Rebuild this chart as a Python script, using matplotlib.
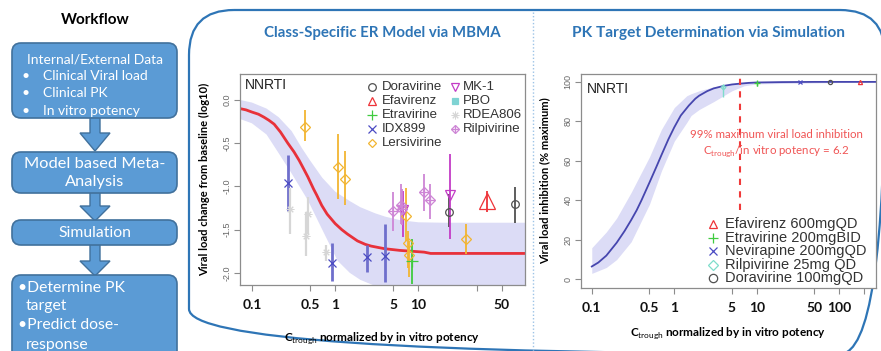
import matplotlib
matplotlib.use("Agg")
import numpy as np
import matplotlib.pyplot as plt
from matplotlib.patches import FancyBboxPatch, Polygon

plt.rcParams['mathtext.fontset'] = 'custom'
plt.rcParams['mathtext.rm'] = 'Lato'
plt.rcParams['mathtext.bf'] = 'Lato:bold'

# ---------------- data: left panel (MBMA) ----------------
drugs = ["Doravirine", "Efavirenz", "Etravirine", "IDX899", "Lersivirine",
         "MK-1", "PBO", "RDEA806", "Rilpivirine"]
dora_x = [23.3, 144];  dora_y = [-1.30, -1.20]; dora_lo = [-1.47, -1.42]; dora_hi = [-1.09, -1.01]
efa_x = [66];          efa_y = [-1.17];         efa_lo = [-1.30];         efa_hi = [-1.05]
etr_x = [8.47];        etr_y = [-1.86];         etr_lo = [-2.13];         etr_hi = [-1.61]
idx_x = [0.268, 0.91, 2.4, 3.94]
idx_y = [-0.96, -1.88, -1.82, -1.80]
idx_lo = [-1.28, -2.09, -1.99, -2.11]
idx_hi = [-0.64, -1.65, -1.68, -1.43]
ler_x = [0.436, 1.07, 1.31, 7.05, 7.4, 7.7, 37]
ler_y = [-0.31, -0.77, -0.92, -1.34, -1.65, -1.79, -1.61]
ler_lo = [-0.47, -1.15, -1.22, -1.63, -1.94, -2.05, -1.78]
ler_hi = [-0.12, -0.39, -0.59, -1.02, -1.51, -1.63, -1.43]
mk_x = [6.6, 23.8];    mk_y = [-1.27, -1.10];   mk_lo = [-1.59, -1.61];   mk_hi = [-1.05, -0.62]
rdea_x = [0.29, 0.47, 0.45, 0.78]
rdea_y = [-1.26, -1.32, -1.57, -1.76]
rdea_lo = [-1.55, -1.55, -1.80, -1.86]
rdea_hi = [-1.02, -1.12, -1.30, -1.68]
ril_x = [4.88, 6.14, 6.4, 11.7, 13.8]
ril_y = [-1.28, -1.21, -1.26, -1.06, -1.16]
ril_lo = [-1.51, -1.43, -1.45, -1.28, -1.38]
ril_hi = [-1.07, -0.97, -1.03, -0.86, -0.97]

er_x = [0.072, 0.085, 0.1, 0.12, 0.14, 0.16, 0.185, 0.22, 0.27, 0.32, 0.37, 0.42, 0.47, 0.55,
        0.6, 0.69, 0.8, 1.0, 1.2, 1.4, 1.85, 2.3, 2.7, 3.9, 6, 11.7, 14, 190]
er_y = [-0.10, -0.115, -0.14, -0.165, -0.20, -0.235, -0.28, -0.37, -0.50, -0.60, -0.70, -0.80,
        -0.89, -1.03, -1.10, -1.22, -1.32, -1.43, -1.50, -1.55, -1.63, -1.67, -1.69, -1.72,
        -1.74, -1.76, -1.775, -1.775]
band_up_x = [0.072, 0.1, 0.15, 0.21, 0.3, 0.4, 0.5, 0.7, 1.0, 1.5, 2.0, 3.0, 4.0, 6, 10, 20, 190]
band_up_y = [0.0, -0.03, -0.10, -0.20, -0.36, -0.56, -0.70, -0.90, -1.06, -1.17, -1.24, -1.31,
             -1.35, -1.39, -1.415, -1.42, -1.42]
band_lo_x = [0.072, 0.1, 0.15, 0.2, 0.3, 0.47, 0.7, 1.07, 1.5, 2.0, 3.0, 4.25, 190]
band_lo_y = [-0.22, -0.27, -0.40, -0.585, -0.85, -1.16, -1.50, -1.86, -2.0, -2.08, -2.15, -2.2, -2.25]

left_xticks = [0.1, 0.5, 1, 5, 10, 50, 100]
left_xticklabels = ["0.1", "0.5", "1", "5", "10", "", "50"]
left_yticks = [0.0, -0.5, -1.0, -1.5, -2.0]

# ---------------- data: right panel (simulation) ----------------
sim_x = [0.1, 0.12, 0.15, 0.2, 0.25, 0.3, 0.35, 0.4, 0.5, 0.6, 0.7, 0.85, 1, 1.2, 1.5, 1.8, 2,
         2.5, 3, 4, 5, 6.2, 8, 10, 20, 50, 279]
sim_y = [6.5, 8.5, 12, 18.5, 24.5, 30, 35, 40, 49, 56.5, 63, 71, 77, 83, 88, 91.5, 93, 95.3,
         96.7, 98, 98.7, 99.1, 99.5, 99.7, 99.9, 100, 100]
sim_band_x = [0.1, 0.15, 0.2, 0.3, 0.5, 0.7, 1, 1.42, 1.6, 2, 3, 5, 7, 10, 279]
sim_band_lo = [3, 6, 10, 19, 38, 55, 70, 79.5, 83, 86, 90, 95.5, 98, 99, 100]
sim_band_hi = [16, 24, 31, 44, 62, 76, 87, 93, 94, 95.5, 97.5, 99, 99.7, 100, 100]
target_ratio = 6.2
dose_labels = ["Efavirenz 600mgQD", "Etravirine 200mgBID", "Nevirapine 200mgQD",
               "Rilpivirine 25mg QD", "Doravirine 100mgQD"]
dose_x = [178, 10, 33.5, 3.94, 77]
dose_y = [100, 99.5, 100, 97.5, 100]
dose_lo = [100, 98.0, 100, 92.5, 100]
dose_hi = [100, 100.5, 100, 99.0, 100]
right_xticks = [0.1, 0.5, 1, 5, 10, 50, 100, 200]
right_xticklabels = ["0.1", "0.5", "1", "5", "10", "50", "100", ""]
right_yticks = [0, 20, 40, 60, 80, 100]

# ---------------- styles ----------------
BOX = "#5B9BD5"; BOXEDGE = "#41719C"; FRAME = "#2E75B6"
col = {"Doravirine": "#505050", "Efavirenz": "#EE3338", "Etravirine": "#3FCB3F",
       "IDX899": "#4B4BC3", "Lersivirine": "#F2B531", "MK-1": "#C33CC6",
       "PBO": "#7FD3D3", "RDEA806": "#D6D6D6", "Rilpivirine": "#CE86D6",
       "Nevirapine": "#4B4BC3", "RilpSim": "#7EDDCB"}
bar_col = dict(col, IDX899="#6F6FCC")
bar_lw = {"IDX899": 2.0, "RDEA806": 1.6}
POSTER = "Lato"
PLOTF = "Liberation Sans"


def mark(ax, x, y, kind, c, ms=6, mew=0.9, **kw):
    base = dict(linestyle="none", color=c, mfc="none", mew=mew, ms=ms, **kw)
    if kind in ("o", "^", "v", "x"):
        ax.plot(x, y, marker=kind, **base)
    elif kind == "+":
        ax.plot(x, y, marker="+", **dict(base, ms=ms * 1.3))
    elif kind == "D":
        ax.plot(x, y, marker="D", **dict(base, ms=ms * 0.8))
    elif kind == "s":
        ax.plot(x, y, marker="s", **dict(base, mfc=c, ms=ms * 0.8))
    elif kind == "*":
        ax.plot(x, y, marker=(8, 2, 0), **dict(base, mew=0.7))
    elif kind == "D+":
        ax.plot(x, y, marker="D", **dict(base, ms=ms * 0.8))
        ax.plot(x, y, marker="+", **dict(base, ms=ms * 1.1))


fig = plt.figure(figsize=(8.81, 3.51), dpi=100)
bg = fig.add_axes([0, 0, 1, 1])
bg.set_xlim(0, 881); bg.set_ylim(351, 0); bg.axis("off")

# ---- workflow column ----
bg.text(95, 20, "Workflow", ha="center", va="center", fontsize=11, fontweight="bold", family=POSTER)
def arrow(y0, yh, y1):
    bg.add_patch(Polygon([(90, y0), (100, y0), (100, yh), (110, yh), (95, y1), (80, yh), (90, yh)],
                         closed=True, fc=BOX, ec=BOXEDGE, lw=1))
arrow(116, 133, 151)
arrow(191, 206, 221)
arrow(243, 261, 276)
for (y0, y1) in [(43, 118), (152, 193), (220, 245), (275, 370)]:
    bg.add_patch(FancyBboxPatch((12, y0), 165, y1 - y0, boxstyle="round,pad=0,rounding_size=9",
                                fc=BOX, ec=BOXEDGE, lw=1.2))
wt = dict(color="white", family=POSTER, va="center")
bg.text(95, 60, "Internal/External Data", ha="center", fontsize=10, **wt)
for yy, t in [(76, "Clinical Viral load"), (93, "Clinical PK"), (111, "In vitro potency")]:
    bg.text(26, yy, "\u2022", ha="center", fontsize=10, **wt)
    bg.text(43, yy, t, ha="left", fontsize=10, **wt)
bg.text(95, 164, "Model based Meta-", ha="center", fontsize=11.8, **wt)
bg.text(95, 182, "Analysis", ha="center", fontsize=11.8, **wt)
bg.text(95, 233, "Simulation", ha="center", fontsize=11.3, **wt)
bg.text(18, 288, "\u2022Determine PK", ha="left", fontsize=11.3, **wt)
bg.text(26, 306, "target", ha="left", fontsize=11.3, **wt)
bg.text(18, 325, "\u2022Predict dose-", ha="left", fontsize=11.3, **wt)
bg.text(26, 345, "response", ha="left", fontsize=11.3, **wt)

# ---- big frame and divider ----
bg.add_patch(FancyBboxPatch((189, 10), 696, 344, boxstyle="round,pad=0,rounding_size=45",
                            fc="none", ec=FRAME, lw=1.6))
bg.plot([533, 533], [12, 351], ls=(0, (1, 1.5)), color="#9DC3E6", lw=1)
bg.text(382, 33, "Class-Specific ER Model via MBMA", ha="center", va="center", fontsize=10.8,
        fontweight="bold", color=FRAME, family=POSTER)
bg.text(708, 33, "PK Target Determination via Simulation", ha="center", va="center", fontsize=11.1,
        fontweight="bold", color=FRAME, family=POSTER)

# ================= left plot =================
ax = fig.add_axes([240 / 881, 1 - 285 / 351, 285 / 881, 211 / 351])
ax.set_xscale("log")
ax.set_xlim(0.072, 190); ax.set_ylim(-2.14, 0.30)
bx = np.array(band_up_x + band_lo_x[::-1])
by = np.array(band_up_y + band_lo_y[::-1])
ax.fill(bx, by, color="#DCDCF6", lw=0, zorder=1)
ax.plot(er_x, er_y, color="#E8313A", lw=2, zorder=2)

series = [("Doravirine", "o", dora_x, dora_y, dora_lo, dora_hi, 5.5),
          ("Efavirenz", "^", efa_x, efa_y, efa_lo, efa_hi, 11),
          ("Etravirine", "+", etr_x, etr_y, etr_lo, etr_hi, 7),
          ("IDX899", "x", idx_x, idx_y, idx_lo, idx_hi, 5.5),
          ("Lersivirine", "D", ler_x, ler_y, ler_lo, ler_hi, 6.5),
          ("MK-1", "v", mk_x, mk_y, mk_lo, mk_hi, 6.5),
          ("RDEA806", "*", rdea_x, rdea_y, rdea_lo, rdea_hi, 5.5),
          ("Rilpivirine", "D+", ril_x, ril_y, ril_lo, ril_hi, 6.5)]
for name, mk, xs, ys, lo, hi, ms in series:
    ax.vlines(xs, lo, hi, color=bar_col[name], lw=bar_lw.get(name, 1.3), zorder=3)
    mark(ax, xs, ys, mk, col[name], ms=ms, zorder=4)

ax.set_xticks(left_xticks)
ax.set_xticklabels(left_xticklabels)
ax.xaxis.set_minor_locator(matplotlib.ticker.NullLocator())
ax.set_yticks(left_yticks)
ax.set_yticklabels(["%.1f" % v for v in left_yticks], rotation=90, va="center")

# left legend (manual, R style)
leg_kinds = ["o", "^", "+", "x", "D", "v", "s", "*", "D+"]
for i, (name, k) in enumerate(zip(drugs, leg_kinds)):
    c, r = (0, i) if i < 5 else (1, i - 5)
    mx = [0.463, 0.754][c]; tx = [0.497, 0.782][c]
    yy = 0.938 - r * 0.0665
    mark(ax, [mx], [yy], k, col[name], ms=5.5, transform=ax.transAxes, clip_on=False, zorder=5)
    ax.text(tx, yy, name, transform=ax.transAxes, ha="left", va="center", fontsize=9.5,
            family=PLOTF, color="#333333")
ax.text(0.018, 0.982, "NNRTI", transform=ax.transAxes, ha="left", va="top", fontsize=10,
        family=PLOTF, color="#222222")

ax.set_ylabel("Viral load change from baseline (log10)", fontsize=8, fontweight="bold", family=POSTER)
ax.yaxis.set_label_coords(-0.105, 0.5)
ax.set_xlabel(r"C$_{\rm trough}$ normalized by in vitro potency", fontsize=8.5, fontweight="bold",
              family=POSTER)
ax.xaxis.set_label_coords(0.5, -0.215)

# ================= right plot =================
ax2 = fig.add_axes([581 / 881, 1 - 288 / 351, 295 / 881, 214 / 351])
ax2.set_xscale("log")
ax2.set_xlim(0.074, 279); ax2.set_ylim(-4.4, 104)
ax2.fill_between(sim_band_x, sim_band_lo, sim_band_hi, color="#DCDCF6", lw=0, zorder=1)
ax2.plot(sim_x, sim_y, color="#4646AE", lw=1.3, zorder=2)
ax2.axvline(target_ratio, ymin=(35 + 4.4) / 108.4, ymax=1, color="#F03A3A", lw=1.5,
            ls=(0, (3, 3)), zorder=3)
sim_kinds = ["^", "+", "x", "D", "o"]
sim_cols = [col["Efavirenz"], col["Etravirine"], col["Nevirapine"], col["RilpSim"], col["Doravirine"]]
for xs, ys, lo, hi, k, c in zip(dose_x, dose_y, dose_lo, dose_hi, sim_kinds, sim_cols):
    ax2.vlines([xs], [lo], [hi], color=c, lw=1, zorder=3)
    mark(ax2, [xs], [ys], k, c, ms=3, zorder=4)
for i, (lab, k, c) in enumerate(zip(dose_labels, sim_kinds, sim_cols)):
    yy = 0.299 - i * 0.0636
    mark(ax2, [0.446], [yy], k, c, ms=6, transform=ax2.transAxes, clip_on=False, zorder=5)
    ax2.text(0.488, yy, lab, transform=ax2.transAxes, ha="left", va="center", fontsize=10.5,
             family=PLOTF, color="#333333")
ax2.text(0.664, 0.715, "99% maximum viral load inhibition", transform=ax2.transAxes,
         ha="center", va="center", fontsize=8.3, color="#F05555", family=POSTER)
ax2.text(0.661, 0.640, r"C$_{\rm trough}$/in vitro potency = 6.2", transform=ax2.transAxes,
         ha="center", va="center", fontsize=8.3, color="#F05555", family=POSTER)
ax2.text(0.019, 0.964, "NNRTI", transform=ax2.transAxes, ha="left", va="top", fontsize=10,
         family=PLOTF, color="#222222")
ax2.set_xticks(right_xticks)
ax2.set_xticklabels(right_xticklabels)
ax2.xaxis.set_minor_locator(matplotlib.ticker.NullLocator())
ax2.set_yticks(right_yticks)
ax2.set_yticklabels([str(v) for v in right_yticks], rotation=90, va="center")
ax2.set_ylabel("Viral load inhibition (% maximum)", fontsize=8, fontweight="bold", family=POSTER)
ax2.yaxis.set_label_coords(-0.105, 0.5)
ax2.set_xlabel(r"C$_{\rm trough}$ normalized by in vitro potency", fontsize=8.5, fontweight="bold",
               family=POSTER)
ax2.xaxis.set_label_coords(0.5, -0.175)

for a in (ax, ax2):
    for s in a.spines.values():
        s.set_color("#8C8C8C"); s.set_linewidth(0.9)
    a.tick_params(axis="both", colors="#8C8C8C", length=4, width=0.8)
    a.tick_params(axis="x", labelcolor="#111111", labelsize=10, pad=6)
    a.tick_params(axis="y", labelcolor="#666666", labelsize=6.5, pad=2)
    for t in a.get_xticklabels():
        t.set_fontweight("bold"); t.set_family(POSTER)
    for t in a.get_yticklabels():
        t.set_family(PLOTF)

fig.savefig("out.png", dpi=100)
